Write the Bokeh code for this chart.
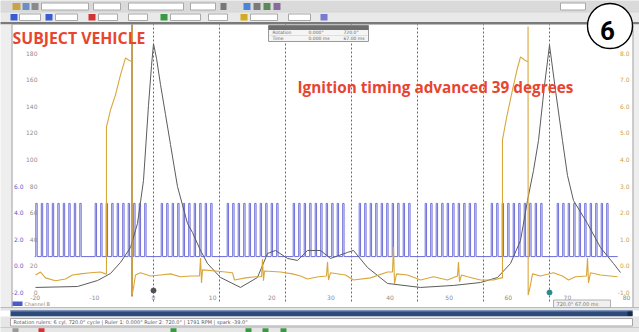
import numpy as np
from bokeh.plotting import figure
from bokeh.models import Range1d, BoxAnnotation, Label
from bokeh.core.properties import value
from bokeh.embed import file_html
from bokeh.resources import INLINE

# ---------------- data ----------------
# x axis: crank angle in degrees, 0 = TDC of the measured cylinder
crank_group_first_deg = [-214, -106, 14, 134, 254, 374, 494, 614, 734]
crank_group_teeth = [9, 10, 10, 10, 10, 10, 10, 10, 10]
tooth_pitch_deg = 10
tooth_width_deg = 2.5
crank_low_v = 0.7
crank_high_v = 4.7
crank_trace_deg = [-216, 844]

pressure_deg = [-214.5, -138.2, -101.8, -78.2, -60, -41.8, -29.1, -18.2, -9.1, -3.6, 0,
                5.5, 12.7, 21.8, 30.9, 43.6, 61.8, 70.9, 85.5, 98.2, 121.8, 158.2, 189,
                207.3, 221.8, 243.6, 261.8, 280, 303.6, 321.8, 352.7, 363.6, 389.1, 425.5,
                485.5, 545.5, 594.5, 625.5, 649.1, 667.3, 680, 690.9, 700, 710.9, 720,
                730.9, 743.6, 752.7, 763.6, 789, 812.7, 836.4, 849.1]
pressure_psi = [3.8, 4.5, 9.0, 14.3, 22.6, 33.8, 51.9, 84.2, 140.6, 170.7, 187,
                176, 156.4, 133.9, 111.3, 79.7, 51.9, 45.1, 31.6, 21.8, 11.3, 3.8, 11.3,
                29.3, 31.6, 25.6, 24.1, 31.6, 31.6, 25.6, 30.1, 31.6, 18.8, 6.8,
                3.8, 5.3, 7.5, 11.3, 21.8, 39.1, 69.2, 91.7, 114.3, 155.7, 186,
                152, 114.3, 88, 69.2, 51.9, 33.8, 21.8, 15]

coil_deg = [-214.5, -205.5, -196.4, -178.2, -160, -147.3, -132.7, -114.5, -96.4, -87.3,
            -85.5, -85.5, -78.2, -69.1, -60, -50.9, -45.5, -39, -39, -38.8, -35.5, -32.7,
            -23.6, -5.5, 12.7, 30.9, 49.1, 67.3, 83.6, 85.5, 87.3, 89.1, 112.7, 130.9,
            143.6, 147.3, 167.3, 185.5, 196.4, 198.2, 200, 201.8, 230.9, 252.7, 267.3,
            280, 300, 314.5, 316.4, 318.2, 321.8, 349.1, 363.6, 394.5, 425.5, 434.5,
            436.4, 438.2, 441.8, 461.8, 485.5, 509.1, 534.5, 552.7, 554.5, 556.4, 560,
            570.9, 594.5, 618.2, 632.7, 634.5, 634.5, 641.8, 652.7, 661.8, 667.3, 674.5,
            681, 681, 681.2, 685.5, 689.1, 703.6, 727.3, 743.6, 754.5, 767.3, 787.3,
            789.1, 790.9, 794.5, 812.7, 830.9, 843.6]
coil_amp = [-0.34, -0.23, -0.45, -0.56, -0.49, -0.34, -0.30, -0.26, -0.23, -0.30,
            -0.30, 5.23, 5.86, 6.43, 7.18, 7.82, 7.74, 7.67, 9.0, -1.1, -0.71, -0.34,
            -0.26, -0.38, -0.34, -0.30, -0.41, -0.38, -0.38, 0.30, -0.64, -0.15, -0.19, -0.23,
            -0.26, -0.53, -0.45, -0.41, -0.41, 0.26, -0.56, -0.19, -0.23, -0.30, -0.38,
            -0.49, -0.41, -0.38, 0.15, -0.53, -0.26, -0.34, -0.53, -0.45, -0.23, -0.23,
            0.71, -0.68, -0.30, -0.34, -0.53, -0.41, -0.53, -0.38, 0.15, -0.60, -0.34,
            -0.41, -0.53, -0.53, -0.45, -0.45, 4.74, 5.56, 6.62, 7.44, 7.86, 7.74,
            7.67, 9.0, -1.1, -0.71, -0.30, -0.38, -0.26, -0.38, -0.53, -0.41, -0.38,
            0.30, -0.64, -0.26, -0.34, -0.38, -0.41]

spark_deg = [-39, 681]
rotation_ruler_deg = [0, 120, 240, 360, 480, 600, 720]
time_tick_ms = [-20, -10, 0, 10, 20, 30, 40, 50, 60, 70, 80]
deg_per_ms = 10.75
psi_ticks = [0, 20, 40, 60, 80, 100, 120, 140, 160, 180]
volt_ticks = [-2.0, 0.0, 2.0, 4.0, 6.0]
amp_ticks = [-1, 0, 1, 2, 3, 4, 5, 6, 7, 8]

# ---------------- screen geometry (reference pixels) ----------------
DEG0_PX, PX_PER_DEG = 153.0, 0.55
DIV0_PX, PX_PER_DIV = 292.0, 26.6
LEFT_PX, RIGHT_PX, TOP_PX, BOTTOM_PX = 0, 639, 0, 332


def X(px):
    return (px - DEG0_PX) / PX_PER_DEG


def Y(py):
    return (DIV0_PX - py) / PX_PER_DIV


div_lo, div_hi = Y(BOTTOM_PX), Y(TOP_PX)


def chan_range(v_at_div0, per_div):
    return Range1d(v_at_div0 + per_div * div_lo, v_at_div0 + per_div * div_hi)


p = figure(width=RIGHT_PX - LEFT_PX, height=BOTTOM_PX - TOP_PX,
           x_range=Range1d(X(LEFT_PX), X(RIGHT_PX)), y_range=Range1d(div_lo, div_hi),
           x_axis_location=None, y_axis_location=None, toolbar_location=None,
           output_backend="svg", min_border=0, background_fill_color="white",
           border_fill_color="white", outline_line_color=None)
p.grid.visible = False
p.extra_y_ranges = {"blue": chan_range(-2.0, 2.0),
                    "press": chan_range(0.0, 20.0),
                    "coil": chan_range(-1.0, 1.0)}


def box(x0, x1, y0, y1, color, level="underlay", line=None):
    p.add_layout(BoxAnnotation(left=X(x0), right=X(x1), top=Y(y0), bottom=Y(y1),
                               fill_color=color, fill_alpha=1.0,
                               line_color=line if line else color,
                               line_alpha=1.0 if line else 0.0, level=level))


def label(txt, x, y, size, color, font="DejaVu Sans", style="normal", align="left"):
    p.add_layout(Label(x=X(x), y=Y(y), text=txt, text_font=font, text_font_style=style,
                       text_font_size=size, text_color=color, text_align=align,
                       text_baseline="middle"))


# ---- toolbar chrome ----
box(-5, 645, -5, 11, "#dadada")
box(-5, 645, 11, 22, "#e9e9e9")
box(-5, 645, 11, 11.8, "#c4c4c4")
box(-5, 645, 21.6, 24, "#7a7a7a")
row1 = [(12, 20, "#c9a34a"), (22, 29, "#6a8fc8"), (31, 38, "#8a8a8a"), (41, 88, "white"),
        (93, 120, "white"), (128, 183, "white"), (190, 215, "white"), (220, 226, "#777777"),
        (243, 250, "#4a86d8"), (253, 260, "#7a7a7a"), (263, 270, "#5a8a5a"), (273, 280, "#8a6a9a"),
        (560, 585, "white")]
for x0, x1, c in row1:
    box(x0, x1, 2.5, 9.5, c, line="#a8a8a8" if c == "white" else None)
row2 = [(10, 17, "#3d5bd0"), (19, 40, "white"), (45, 52, "#3d5bd0"), (55, 77, "white"),
        (88, 95, "#d03434"), (98, 117, "white"), (128, 147, "white"), (160, 167, "#3a9a44"),
        (170, 200, "white"), (208, 227, "white"), (240, 247, "#d4aa20"), (250, 277, "white"),
        (288, 310, "white"), (320, 327, "#7a7ad0")]
for x0, x1, c in row2:
    box(x0, x1, 13.5, 20, c, line="#a8a8a8" if c == "white" else None)

# panel edges
box(-5, 11, 24, 307, "#eeeeee")
box(11, 12, 24, 307, "#9c9c9c")
box(633, 645, 24, 307, "#eeeeee")
box(632, 633, 24, 307, "#9c9c9c")

# ---- rotation rulers (dashed) and time ruler at the spark ----
n = len(rotation_ruler_deg)
p.segment(x0=rotation_ruler_deg, x1=rotation_ruler_deg, y0=[Y(301)] * n, y1=[Y(24)] * n,
          line_color="#6a6a6a", line_dash="2 2", line_width=1)
p.segment(x0=[spark_deg[0]], x1=[spark_deg[0]], y0=[Y(296)], y1=[Y(24)],
          line_color="#8a8168", line_width=1.6)

# ---- traces ----
cx, cy = [crank_trace_deg[0]], [crank_low_v]
for first, teeth in zip(crank_group_first_deg, crank_group_teeth):
    for j in range(teeth):
        t = first + j * tooth_pitch_deg
        cx += [t, t, t + tooth_width_deg, t + tooth_width_deg]
        cy += [crank_low_v, crank_high_v, crank_high_v, crank_low_v]
cx.append(crank_trace_deg[1])
cy.append(crank_low_v)
p.line(cx, cy, y_range_name="blue", line_color="#6d6dd8", line_width=1)

p.line(pressure_deg, pressure_psi, y_range_name="press", line_color="#5c5c5c", line_width=1)

coil_clipped = np.clip(np.array(coil_amp), -1.1, 9.0)
p.line(coil_deg, coil_clipped, y_range_name="coil", line_color="#d9a63a", line_width=1.1)

# ruler end handles
p.scatter(x=[rotation_ruler_deg[0]], y=[Y(290)], size=5, marker="circle",
          fill_color="#505050", line_color="#505050")
p.scatter(x=[rotation_ruler_deg[-1]], y=[Y(292)], size=5, marker="circle",
          fill_color="#2a8a8a", line_color="#2a8a8a")

# ---- axis labels drawn inside the panel (PicoScope style) ----
lab = dict(text_font=value("DejaVu Sans"), text_font_size="6px", text_baseline="middle")
p.text(x=[X(37)] * len(psi_ticks), y=psi_ticks, text=[f"{v:d}" for v in psi_ticks],
       y_range_name="press", text_color="#8c8c8c", text_align="right", **lab)
p.text(x=[X(23)] * len(volt_ticks), y=volt_ticks, text=[f"{v:.1f}" for v in volt_ticks],
       y_range_name="blue", text_color="#5a5ad0", text_align="right", **lab)
p.text(x=[X(629)] * len(amp_ticks), y=amp_ticks, text=[f"{v:.1f}" for v in amp_ticks],
       y_range_name="coil", text_color="#c9a24a", text_align="right", **lab)
p.text(x=[t * deg_per_ms for t in time_tick_ms], y=[Y(296.5)] * len(time_tick_ms),
       text=[f"{t:d}" for t in time_tick_ms], text_color="#8c8c8c", text_align="center", **lab)

# ---- ruler table (top middle) ----
box(268, 368, 25, 41, "#f5f5f5", level="annotation", line="#9a9a9a")
box(268, 368, 25, 29.5, "#6d6d6d", level="annotation")
box(269, 367, 35, 35.6, "#c8c8c8", level="annotation")
for txt, x0, y0 in [("Rotation", 272, 32.3), ("0.000°", 308, 32.3), ("720.0°", 343, 32.3),
                    ("Time", 272, 38.2), ("0.000 ms", 308, 38.2), ("67.00 ms", 343, 38.2)]:
    label(txt, x0, y0, "4.5px", "#666666")

# ---- bottom chrome ----
box(12, 22, 301, 305.5, "#4a5cc8", level="annotation")
label("Channel B", 24, 303.3, "5px", "#8a8a8a")
box(553, 610, 299.5, 307, "#f0f0f0", level="annotation", line="#b0b0b0")
label("720.0°  67.00 ms", 556, 303.3, "5px", "#777777")
box(-5, 645, 307, 310, "#e4e4e4", level="annotation")
box(-5, 645, 306.5, 307.3, "#a8a8a8", level="annotation")
box(10, 632, 310, 316, "#2c4a7c", level="annotation")
box(10, 632, 310, 311, "#6f8cbc", level="annotation")
box(627, 632, 311, 315.5, "#1a2a44", level="annotation")
box(-5, 645, 316, 340, "#e6e6e6", level="annotation")
box(10, 632, 318, 325.5, "white", level="annotation", line="#a6a6a6")
box(-5, 645, 326.5, 327.2, "#c0c0c0", level="annotation")
status_icons = [(12, 18, "#9a9a9a"), (38, 44, "#d03434"), (170, 176, "#3a9a44"),
                (245, 251, "#3a9a44"), (262, 268, "#3a9a44"), (280, 286, "#3a9a44")]
for x0, x1, c in status_icons:
    box(x0, x1, 327.8, 331.5, c, level="annotation")
label("Rotation rulers: 6 cyl, 720.0° cycle | Ruler 1: 0.000°  Ruler 2: 720.0° | 1791 RPM | spark -39.0°",
      13, 321.8, "5px", "#555555")

# ---- annotations ----
red = "#e8452f"
label("SUBJECT VEHICLE", 12, 37.8, "15.8px", red, font="Open Sans", style="bold")
label("Ignition timing advanced 39 degrees", 297, 86, "15.3px", red,
      font="Open Sans", style="bold")

p.scatter(x=[X(609.5)], y=[Y(25.5)], size=45, marker="circle", fill_color="white",
          line_color="black", line_width=1.4)
label("6", 607, 29.5, "26px", "black", font="Roboto", style="bold", align="center")

open("out.html", "w").write(file_html(p, INLINE))
